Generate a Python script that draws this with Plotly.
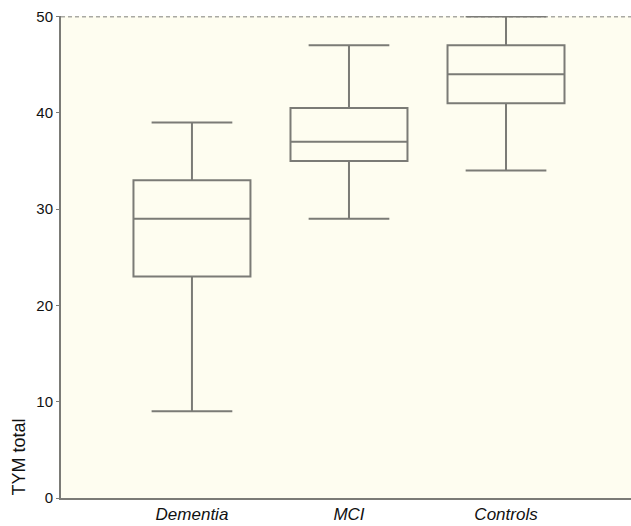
import plotly.graph_objects as go

categories = ["Dementia", "MCI", "Controls"]
lower_whisker = [9, 29, 34]
q1_values = [23, 35, 41]
median_values = [29, 37, 44]
q3_values = [33, 40.5, 47]
upper_whisker = [39, 47, 50]
y_ticks = [0, 10, 20, 30, 40, 50]

line_col = "#7b7b76"
bg_col = "#fefdf0"

fig = go.Figure()
fig.add_trace(go.Box(
    x=categories,
    q1=q1_values,
    median=median_values,
    q3=q3_values,
    lowerfence=lower_whisker,
    upperfence=upper_whisker,
    width=0.745,
    whiskerwidth=0.69,
    fillcolor="rgba(0,0,0,0)",
    line=dict(color=line_col, width=2),
    boxpoints=False,
    hoverinfo="skip",
))

fig.add_shape(type="line", xref="paper", yref="y", x0=0, x1=1, y0=50, y1=50,
              line=dict(color="#a9a9a3", width=2, dash="4px,3px"), layer="below")

fig.add_annotation(
    text="TYM total", xref="paper", yref="paper", x=-0.0754, y=0.0,
    xanchor="center", yanchor="bottom", textangle=-90, showarrow=False,
    font=dict(family="Liberation Sans, Arial, sans-serif", size=18, color="#111111"),
)

fig.update_layout(
    width=631, height=526,
    margin=dict(l=61, r=0, t=16, b=28, autoexpand=False),
    paper_bgcolor="white",
    plot_bgcolor=bg_col,
    showlegend=False,
    font=dict(family="Liberation Sans, Arial, sans-serif", color="#111111"),
    xaxis=dict(
        type="category",
        range=[-0.834, 2.796],
        automargin=False,
        showgrid=False, zeroline=False,
        showline=True, linecolor=line_col, linewidth=2,
        ticks="",
        tickfont=dict(size=17, family="Liberation Sans, Arial, sans-serif", style="italic"),
    ),
    yaxis=dict(
        range=[0, 50.05],
        tickvals=y_ticks,
        automargin=False,
        showgrid=False, zeroline=False,
        showline=True, linecolor=line_col, linewidth=2,
        ticks="outside", ticklen=3, tickcolor=line_col,
        tickfont=dict(size=15),
    ),
)

fig.write_html("out.html")
